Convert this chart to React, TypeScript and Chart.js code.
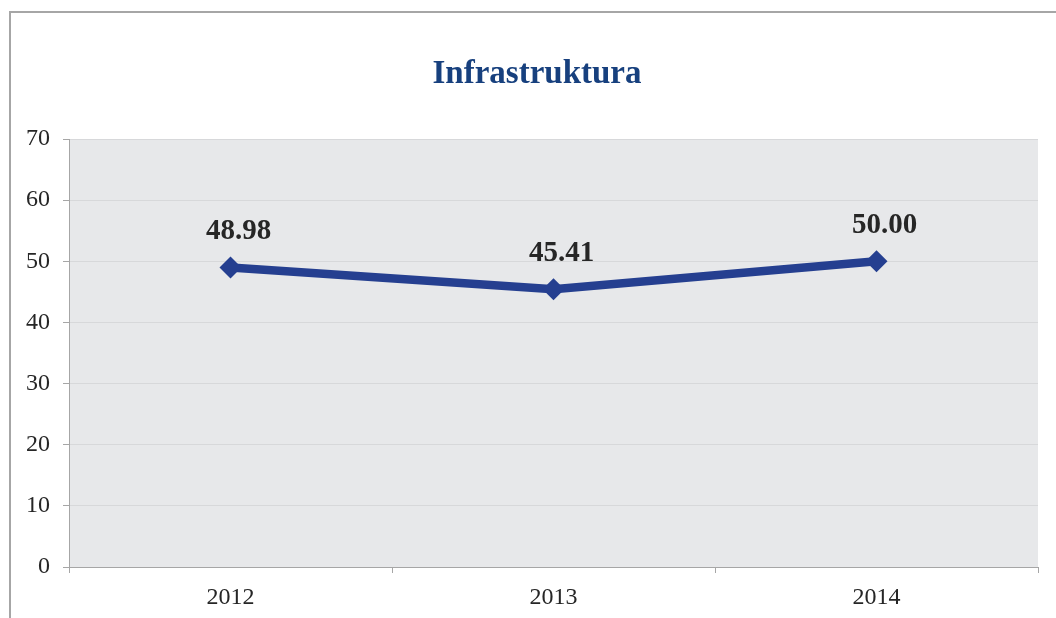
import React, { useEffect, useRef } from "react";
import { Chart, registerables } from "chart.js";

Chart.register(...registerables);

const categories = ["2012", "2013", "2014"];
const values = [48.98, 45.41, 50.0];
const valueLabels = ["48.98", "45.41", "50.00"];
const chartTitle = "Infrastruktura";
const yMin = 0;
const yMax = 70;
const yStep = 10;

const SERIF = "'Liberation Serif', 'Times New Roman', serif";

const framePlugin = {
  id: "frameAndBg",
  beforeDraw(chart: any) {
    const { ctx, chartArea } = chart;
    ctx.save();
    ctx.fillStyle = "#ffffff";
    ctx.fillRect(0, 0, chart.width, chart.height);
    ctx.strokeStyle = "#a6a6a6";
    ctx.lineWidth = 2;
    ctx.beginPath();
    ctx.moveTo(10, chart.height + 5);
    ctx.lineTo(10, 12);
    ctx.lineTo(chart.width + 5, 12);
    ctx.stroke();
    ctx.fillStyle = "#e7e8ea";
    ctx.fillRect(chartArea.left, chartArea.top, chartArea.right - chartArea.left, chartArea.bottom - chartArea.top);
    ctx.fillStyle = "#17407e";
    ctx.font = `bold 33px ${SERIF}`;
    ctx.textAlign = "center";
    ctx.textBaseline = "alphabetic";
    ctx.fillText(chartTitle, 537, 83);
    ctx.restore();
  },
  afterDatasetsDraw(chart: any) {
    const { ctx } = chart;
    const meta = chart.getDatasetMeta(0);
    ctx.save();
    ctx.fillStyle = "#262626";
    ctx.font = `bold 29px ${SERIF}`;
    ctx.textAlign = "center";
    ctx.textBaseline = "middle";
    meta.data.forEach((pt: any, i: number) => {
      ctx.fillText(valueLabels[i], pt.x + 8, pt.y - 36);
    });
    ctx.restore();
  },
};

export default function App() {
  const ref = useRef<HTMLCanvasElement>(null);
  useEffect(() => {
    if (!ref.current) return;
    const chart = new Chart(ref.current, {
      type: "line",
      data: {
        labels: categories,
        datasets: [
          {
            data: values,
            borderColor: "#253f90",
            backgroundColor: "#253f90",
            borderWidth: 8.5,
            pointStyle: "rectRot",
            pointRadius: 11,
            pointHoverRadius: 11,
            pointBorderWidth: 0,
            tension: 0,
          },
        ],
      },
      options: {
        animation: false,
        responsive: false,
        devicePixelRatio: 1,
        layout: { padding: { left: 0, top: 139, right: 18, bottom: 0 } },
        plugins: {
          legend: { display: false },
          title: { display: false },
          tooltip: { enabled: false },
        },
        scales: {
          x: {
            type: "category",
            offset: true,
            afterFit: (s: any) => {
              s.height = 51;
            },
            grid: {
              display: true,
              offset: true,
              drawOnChartArea: false,
              drawTicks: true,
              tickLength: 6,
              tickColor: "#a6a6a6",
            },
            border: { display: true, color: "#a6a6a6", width: 1 },
            ticks: {
              color: "#262626",
              font: { family: SERIF, size: 24 },
              padding: 10,
              maxRotation: 0,
            },
          },
          y: {
            min: yMin,
            max: yMax,
            afterFit: (s: any) => {
              s.width = 69;
            },
            grid: {
              color: "#d7d8da",
              lineWidth: 1,
              drawTicks: true,
              tickLength: 6,
              tickColor: "#a6a6a6",
            },
            border: { display: true, color: "#a6a6a6", width: 1 },
            ticks: {
              stepSize: yStep,
              color: "#262626",
              font: { family: SERIF, size: 24 },
              padding: 13,
            },
          },
        },
      },
      plugins: [framePlugin],
    });
    return () => chart.destroy();
  }, []);
  return (
    <div style={{ position: "fixed", left: 0, top: 0, width: 1056, height: 618, background: "#fff" }}>
      <canvas ref={ref} width={1056} height={618} style={{ width: 1056, height: 618, display: "block" }} />
    </div>
  );
}
